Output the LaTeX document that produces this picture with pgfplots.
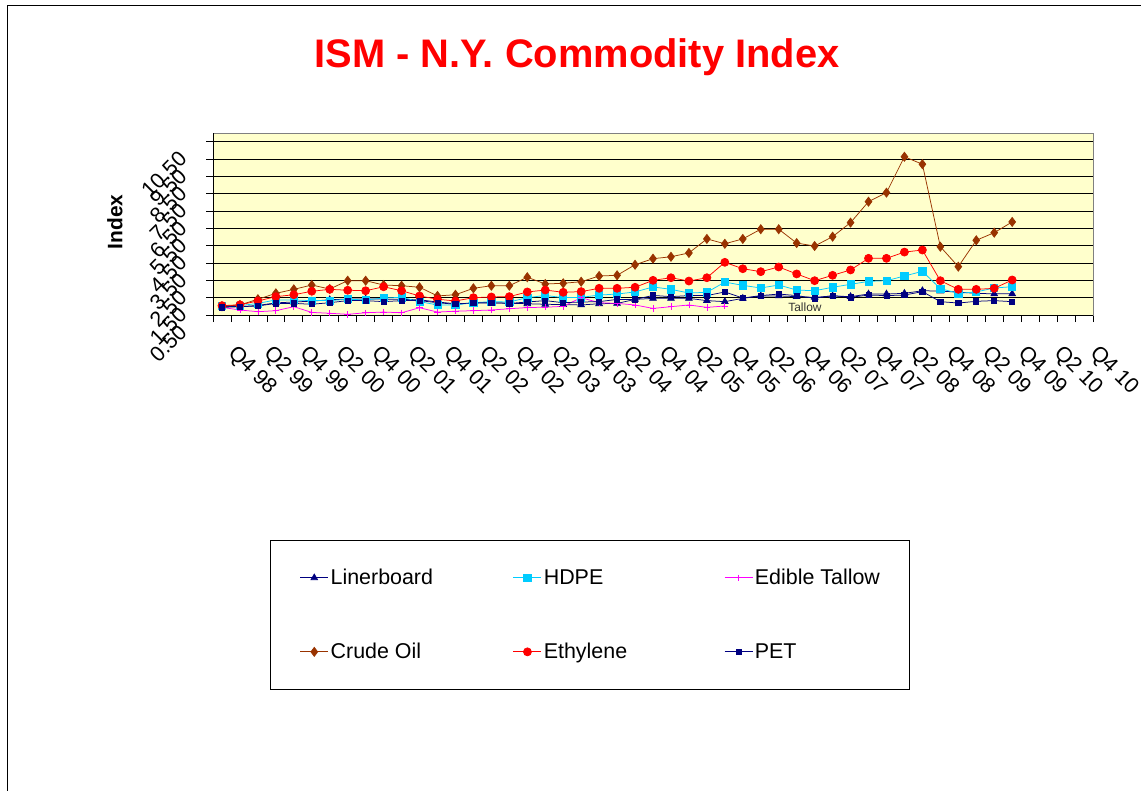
\documentclass[border=0pt]{standalone}
\usepackage{fontspec}
\setmainfont{Liberation Sans}
\usepackage{pgfplots}
\usepackage{pgfplotstable}
\pgfplotsset{compat=1.18}
\definecolor{crude}{HTML}{993300}
\definecolor{hdpe}{HTML}{00CCFF}
\definecolor{tallow}{HTML}{FF00FF}
\definecolor{navyc}{HTML}{000080}
\definecolor{plotbg}{HTML}{FFFFCC}

\pgfplotstableread{
i lin hdpe crude eth pet
0 1.00 1.04 1.00 1.04 0.94
1 0.98 1.04 1.08 1.09 0.98
2 1.05 1.17 1.41 1.31 1.02
3 1.20 1.37 1.75 1.56 1.17
4 1.25 1.37 1.98 1.67 1.17
5 1.30 1.33 2.23 1.87 1.12
6 1.38 1.33 2.00 1.98 1.21
7 1.42 1.41 2.48 1.93 1.33
8 1.42 1.37 2.48 1.90 1.33
9 1.42 1.48 2.23 2.13 1.27
10 1.40 1.52 2.19 1.90 1.33
11 1.38 1.27 2.10 1.60 1.33
12 1.25 1.08 1.60 1.41 1.21
13 1.15 1.08 1.67 1.31 1.12
14 1.18 1.21 2.04 1.50 1.21
15 1.20 1.27 2.19 1.54 1.21
16 1.18 1.25 2.19 1.56 1.17
17 1.15 1.50 2.68 1.83 1.25
18 1.12 1.63 2.29 1.94 1.33
19 1.10 1.50 2.33 1.81 1.21
20 1.08 1.52 2.42 1.85 1.25
21 1.15 1.65 2.75 2.04 1.27
22 1.17 1.71 2.79 2.04 1.40
23 1.40 1.83 3.40 2.10 1.40
24 1.46 2.12 3.75 2.50 1.63
25 1.46 1.98 3.86 2.65 1.56
26 1.46 1.77 4.08 2.46 1.62
27 1.33 1.81 4.89 2.65 1.62
28 1.27 2.40 4.61 3.54 1.83
29 1.46 2.21 4.89 3.17 1.48
30 1.60 2.06 5.45 3.00 1.62
31 1.60 2.23 5.45 3.27 1.71
32 1.56 1.94 4.65 2.87 1.62
33 1.52 1.90 4.48 2.48 1.46
34 1.60 2.10 5.02 2.79 1.62
35 1.56 2.27 5.83 3.10 1.52
36 1.71 2.44 7.04 3.77 1.65
37 1.71 2.48 7.56 3.77 1.62
38 1.75 2.75 9.63 4.13 1.65
39 1.90 3.02 9.20 4.25 1.85
40 1.88 2.02 4.44 2.48 1.27
41 1.82 1.75 3.29 1.98 1.19
42 1.75 1.83 4.81 1.98 1.29
43 1.72 2.06 5.25 2.04 1.33
44 1.72 2.13 5.87 2.52 1.27
}\maindata

\pgfplotstableread{
i tallow
0 0.94
1 0.79
2 0.69
3 0.75
4 0.98
5 0.65
6 0.60
7 0.54
8 0.63
9 0.67
10 0.63
11 0.92
12 0.67
13 0.72
14 0.75
15 0.79
16 0.86
17 0.93
18 0.95
19 1.00
20 1.50
21 1.21
22 1.17
23 1.08
24 0.88
25 0.98
26 1.08
27 0.94
28 1.02
}\tallowdata

\begin{document}
\begin{tikzpicture}
\useasboundingbox (0bp,0bp) rectangle (1141bp,-791bp);
\draw[black, line width=0.75bp] (7bp,-791bp) -- (7bp,-5bp) -- (1141bp,-5bp);
\node[font=\fontsize{40}{48}\selectfont\bfseries, text=red] at (577bp,-57bp) {ISM - N.Y. Commodity Index};
\node[font=\fontsize{21}{25}\selectfont\bfseries, rotate=90] at (115bp,-222bp) {Index};
\begin{axis}[
  at={(213bp,-315bp)}, anchor=south west,
  scale only axis, width=880bp, height=182bp,
  xmin=-0.5, xmax=48.5, ymin=0.5, ymax=11,
  axis background/.style={fill=plotbg},
  axis line style={gray, line width=0.75bp},
  xtick pos=bottom, ytick pos=left,
  xtick={0,2,...,48},
  xticklabels={Q4 98,Q2 99,Q4 99,Q2 00,Q4 00,Q2 01,Q4 01,Q2 02,Q4 02,Q2 03,Q4 03,Q2 04,Q4 04,Q2 05,Q4 05,Q2 06,Q4 06,Q2 07,Q4 07,Q2 08,Q4 08,Q2 09,Q4 09,Q2 10,Q4 10},
  minor xtick={-0.5,0.5,...,48.5},
  major x tick style={draw=none},
  minor x tick style={black, line width=0.75bp},
  minor tick length=7bp,
  major tick length=7bp,
  tick align=outside,
  ytick={0.5,1.5,...,10.5},
  yticklabels={0.50,1.50,2.50,3.50,4.50,5.50,6.50,7.50,8.50,9.50,10.50},
  ytick style={black, line width=0.75bp},
  ymajorgrids,
  major grid style={black, line width=0.75bp},
  tick label style={font=\fontsize{21.5}{26}\selectfont},
  xticklabel style={inner sep=0pt, anchor=west, xshift=9bp, yshift=-28bp, rotate=-45},
  yticklabel style={inner sep=0pt, anchor=east, xshift=-23bp, yshift=-13.5bp, rotate=45},
  legend columns=3,
  legend cell align=left,
  legend image code/.code={\draw[mark repeat=2,mark phase=2,#1] plot coordinates {(0bp,0bp) (14bp,0bp) (28bp,0bp)};},
  legend style={at={(0.0648,-1.236)}, anchor=north west, draw=black, line width=0.75bp, fill=white,
    font=\fontsize{21.5}{26}\selectfont, inner xsep=29.5bp, inner ysep=29bp, row sep=57bp,
    nodes={inner sep=0pt, anchor=west},
    /tikz/every odd column/.append style={column sep=2bp},
    /tikz/column 2/.append style={column sep=80bp},
    /tikz/column 4/.append style={column sep=97bp}},
]
\addplot[navyc, line width=0.75bp, mark=triangle*, mark size=3.8bp, mark options={solid, fill=navyc}] table[x=i,y=lin]{\maindata};
\addlegendentry{Linerboard}
\addplot[hdpe, line width=0.75bp, mark=square*, mark size=3.6bp, mark options={solid, fill=hdpe}] table[x=i,y=hdpe]{\maindata};
\addlegendentry{HDPE}
\addplot[tallow, line width=0.75bp, mark=+, mark size=3.2bp, mark options={solid}] table[x=i,y=tallow]{\tallowdata};
\addlegendentry{Edible Tallow}
\addplot[crude, line width=0.75bp, mark=diamond*, mark size=4.5bp, mark options={solid, fill=crude}] table[x=i,y=crude]{\maindata};
\addlegendentry{Crude Oil}
\addplot[red, line width=0.75bp, mark=*, mark size=4bp, mark options={solid, fill=red}] table[x=i,y=eth]{\maindata};
\addlegendentry{Ethylene}
\addplot[navyc, line width=0.75bp, mark=square*, mark size=2.6bp, mark options={solid, fill=navyc}] table[x=i,y=pet]{\maindata};
\addlegendentry{PET}
\node[font=\fontsize{12}{14}\selectfont, text=black!80] at (axis cs:32.46,0.93) {Tallow};
\draw[black, line width=0.75bp] (rel axis cs:0,1) -- (rel axis cs:0,0) -- (rel axis cs:1,0);
\end{axis}
\end{tikzpicture}
\end{document}
